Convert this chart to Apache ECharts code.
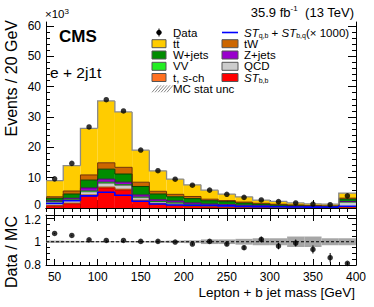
<!DOCTYPE html>
<html><head><meta charset="utf-8">
<script src="https://cdn.jsdelivr.net/npm/echarts@6/dist/echarts.min.js"></script>
<style>html,body{margin:0;padding:0;background:#fff}#c{width:374px;height:307px}</style>
</head><body><div id="c"></div>
<script>
// ---------- data (thousands of events per 20 GeV bin) ----------
const binEdges = [40,60,80,100,120,140,160,180,200,220,240,260,280,300,320,340,360,380,400];
const dataVals = [9.6,14.7,26.7,35.7,32.0,19.1,12.3,9.5,7.5,5.9,4.5,3.5,2.65,2.1,1.65,1.3,1.1,4.0];
const stbbVals = [0.6,1.4,4.0,6.6,5.9,2.3,1.2,0.8,0.5,0.35,0.3,0.25,0.2,0.15,0.12,0.1,0.08,0.3];
const tschVals = [0.2,0.2,0.3,0.3,0.3,0.3,0.2,0.15,0.1,0.1,0.08,0.06,0.05,0.04,0.03,0.03,0.02,0.05];
const qcdVals  = [1.2,0.9,1.0,1.2,1.2,0.8,0.6,0.6,0.5,0.4,0.35,0.3,0.25,0.2,0.18,0.15,0.12,1.6];
const vvVals   = [0.1,0.2,0.3,0.4,0.3,0.2,0.15,0.15,0.1,0.1,0.08,0.06,0.05,0.04,0.03,0.03,0.02,0.05];
const zjetsVals= [0.3,0.5,1.0,1.0,0.8,0.7,0.55,0.6,0.45,0.35,0.29,0.23,0.2,0.17,0.14,0.12,0.1,0.15];
const wjetsVals= [0.8,1.4,2.6,3.3,2.7,2.8,1.9,1.4,1.45,1.1,1.0,0.75,0.55,0.45,0.35,0.3,0.25,0.8];
const twVals   = [0.5,1.0,1.7,2.1,2.2,1.4,0.9,0.8,0.7,0.5,0.35,0.3,0.25,0.2,0.15,0.12,0.1,0.3];
const ttbarVals= [5.3,8.35,15.35,20.4,18.25,10.55,6.76,5.03,3.85,2.98,2.15,1.74,1.05,0.93,0.67,0.54,0.58,1.65];
const stLineVals=[1.5,2.4,4.0,5.2,4.2,2.2,1.3,1.0,0.9,0.8,0.7,0.5,0.45,0.4,0.35,0.3,0.3,0.6];
const ratioVals = [1.071,1.054,1.017,1.011,1.011,1.003,1.003,0.997,0.98,1.003,0.98,0.949,1.02,0.963,0.989,0.934,0.863,0.814];
const ratioErrs = [0.005,0.005,0.004,0.004,0.004,0.005,0.006,0.008,0.01,0.012,0.014,0.018,0.025,0.028,0.03,0.035,0.04,0.012];
const mcUncVals = [0.01,0.008,0.006,0.005,0.005,0.006,0.008,0.01,0.012,0.02,0.02,0.025,0.03,0.03,0.045,0.045,0.03,0.03];
const xMajorTicks = [50,100,150,200,250,300,350,400];
const yMainTicks = [0,10,20,30,40,50,60];
const yRatioTicks = [0.8,1,1.2];

const FONT = 'Liberation Sans, Arial, Helvetica, sans-serif';
const nb = dataVals.length;
const centers = [];
for (let i = 0; i < nb; i++) centers.push((binEdges[i] + binEdges[i+1]) / 2);

const layers = [
  {vals: stbbVals, fill:'#ff0000', line:'#aa0000'},
  {vals: tschVals, fill:'#ff7020', line:'#b04000'},
  {vals: qcdVals,  fill:'#cccccc', line:'#808080'},
  {vals: vvVals,   fill:'#22ee22', line:'#108010'},
  {vals: zjetsVals,fill:'#9900cc', line:'#550077'},
  {vals: wjetsVals,fill:'#008c00', line:'#004400'},
  {vals: twVals,   fill:'#cc6600', line:'#703000'},
  {vals: ttbarVals,fill:'#ffcc00', line:'#8a8a8a'}
];
let cum = new Array(nb).fill(0);
const series = [];
const outlineSeries = [];
layers.forEach((L, li) => {
  const items = [];
  const hiArr = [];
  for (let i = 0; i < nb; i++) {
    const lo = cum[i], hi = cum[i] + L.vals[i];
    hiArr.push(hi);
    items.push([binEdges[i], binEdges[i+1], lo, hi, i > 0 ? hiArr[i-1] : lo]);
  }
  cum = hiArr;
  series.push({
    type:'custom', xAxisIndex:0, yAxisIndex:0, z:2, silent:true, data:items, clip:true,
    renderItem:(p, api) => {
      const a = api.coord([api.value(0), api.value(2)]);
      const b = api.coord([api.value(1), api.value(3)]);
      return {type:'rect', shape:{x:a[0], y:b[1], width:b[0]-a[0], height:a[1]-b[1]}, style:{fill:L.fill}};
    }
  });
  outlineSeries.push({
    type:'custom', xAxisIndex:0, yAxisIndex:0, z:3, silent:true, data:items, clip:true,
    renderItem:(p, api) => {
      const pp = api.coord([api.value(0), api.value(4)]);
      const a = api.coord([api.value(0), api.value(3)]);
      const b = api.coord([api.value(1), api.value(3)]);
      return {type:'polyline', shape:{points:[pp, a, b]}, style:{stroke:L.line, fill:null, lineWidth: li === layers.length-1 ? 1.3 : 1}};
    }
  });
});

const stItems = [];
for (let i = 0; i < nb; i++) stItems.push([binEdges[i], binEdges[i+1], stLineVals[i], i > 0 ? stLineVals[i-1] : stLineVals[i]]);
const stSeries = {
  type:'custom', xAxisIndex:0, yAxisIndex:0, z:4, silent:true, data:stItems,
  renderItem:(p, api) => {
    const pp = api.coord([api.value(0), api.value(3)]);
    const a = api.coord([api.value(0), api.value(2)]);
    const b = api.coord([api.value(1), api.value(2)]);
    return {type:'polyline', shape:{points:[pp, a, b]}, style:{stroke:'#0000ff', fill:null, lineWidth:1.6}};
  }
};

const dataSeries = {
  type:'scatter', xAxisIndex:0, yAxisIndex:0, z:6, symbol:'circle', symbolSize:5.5,
  itemStyle:{color:'#000'}, data: centers.map((c,i)=>[c, dataVals[i]])
};

// ratio panel
const bandItems = [];
for (let i = 0; i < nb; i++) bandItems.push([binEdges[i], binEdges[i+1], 1 - mcUncVals[i], 1 + mcUncVals[i]]);
const bandSeries = {
  type:'custom', xAxisIndex:4, yAxisIndex:4, z:2, silent:true, data:bandItems, clip:true,
  renderItem:(p, api) => {
    const a = api.coord([api.value(0), api.value(2)]);
    const b = api.coord([api.value(1), api.value(3)]);
    return {type:'rect', shape:{x:a[0], y:b[1], width:b[0]-a[0], height:a[1]-b[1]}, style:{fill:'#a6a6a6'}};
  }
};
const oneLine = {
  type:'line', xAxisIndex:4, yAxisIndex:4, z:3, symbol:'none', silent:true,
  lineStyle:{color:'#000', width:1, type:[3,2]}, data:[[40,1],[400,1]]
};
const ratioErrSeries = {
  type:'custom', xAxisIndex:4, yAxisIndex:4, z:4, silent:true, clip:true,
  data: centers.map((c,i)=>[c, ratioVals[i]-ratioErrs[i], ratioVals[i]+ratioErrs[i]]),
  renderItem:(p, api) => {
    const a = api.coord([api.value(0), api.value(1)]);
    const b = api.coord([api.value(0), api.value(2)]);
    return {type:'line', shape:{x1:a[0], y1:a[1], x2:b[0], y2:b[1]}, style:{stroke:'#000', lineWidth:1}};
  }
};
const ratioPts = {
  type:'scatter', xAxisIndex:4, yAxisIndex:4, z:5, symbol:'circle', symbolSize:5.5,
  itemStyle:{color:'#000'}, data: centers.map((c,i)=>[c, ratioVals[i]])
};

// ---------- axes ----------
const minorX = []; for (let v = 40; v <= 400; v += 10) minorX.push(v);
const minorYMain = []; for (let v = 0; v <= 60; v += 2) minorYMain.push(v);
const minorYRat = []; for (let k = 0; k <= 8; k++) minorYRat.push(+(0.8 + 0.05*k).toFixed(2));

const lbl = {color:'#000', fontFamily:FONT, fontSize:12};
function xAx(grid, pos, ticks, len, labels, line) {
  return {type:'value', gridIndex:grid, position:pos, min:40, max:400,
    splitLine:{show:false},
    axisLine:{show:line, lineStyle:{color:'#000', width:1}},
    axisTick:{show:true, inside:true, length:len, customValues:ticks, lineStyle:{color:'#000', width:1}},
    axisLabel: labels ? Object.assign({show:true, customValues:ticks, margin:6}, lbl) : {show:false}};
}
function yAx(grid, pos, min, max, ticks, len, labels, line, fmt, rich) {
  return {type:'value', gridIndex:grid, position:pos, min:min, max:max,
    splitLine:{show:false},
    axisLine:{show:line, lineStyle:{color:'#000', width:1}},
    axisTick:{show:true, inside:true, length:len, customValues:ticks, lineStyle:{color:'#000', width:1}},
    axisLabel: labels ? Object.assign({show:true, customValues:ticks, margin:5, formatter:fmt, rich:rich}, lbl) : {show:false}};
}
const GM = {left:46, top:22, width:310, height:186};
const GR = {left:46, top:215, width:310, height:50};
const YMAX = 61.3;
const RMAX = 1.23;

const xAxis = [
  xAx(0,'bottom',xMajorTicks,8,false,true), xAx(0,'top',xMajorTicks,8,false,true),
  xAx(1,'bottom',minorX,4,false,false), xAx(1,'top',minorX,4,false,false),
  xAx(2,'bottom',xMajorTicks,6,true,true), xAx(2,'top',xMajorTicks,6,false,true),
  xAx(3,'bottom',minorX,3,false,false), xAx(3,'top',minorX,3,false,false)
];
const mainFmt = v => v === 0 ? '{z|0}' : String(v);
const mainRich = {z:{fontSize:12, fontFamily:FONT, color:'#000', padding:[0,0,7,0]}};
const ratFmt = v => Math.abs(v - 1.2) < 1e-6 ? '{t|1.2}' : String(+v.toFixed(1));
const ratRich = {t:{fontSize:12, fontFamily:FONT, color:'#000', padding:[3,0,0,0]}};
const yAxis = [
  yAx(0,'left',0,YMAX,yMainTicks,8,true,true,mainFmt,mainRich), yAx(0,'right',0,YMAX,yMainTicks,8,false,true),
  yAx(1,'left',0,YMAX,minorYMain,4,false,false), yAx(1,'right',0,YMAX,minorYMain,4,false,false),
  yAx(2,'left',0.8,RMAX,yRatioTicks,8,true,true,ratFmt,ratRich), yAx(2,'right',0.8,RMAX,yRatioTicks,8,false,true),
  yAx(3,'left',0.8,RMAX,minorYRat,4,false,false), yAx(3,'right',0.8,RMAX,minorYRat,4,false,false)
];

// ---------- text / legend graphics ----------
const g = [];
function txt(x, y, text, opt) {
  g.push({type:'text', x:x, y:y, silent:true, rotation:opt.rot||0,
    style:Object.assign({text:text, fill:'#000', fontFamily:FONT, fontSize:12, align:'left', verticalAlign:'middle'}, opt.style)});
}
txt(45, 14, '{a|×10}{s|3}', {style:{fontSize:11, rich:{a:{fontSize:11.5, fontFamily:FONT, lineHeight:13}, s:{fontSize:8, fontFamily:FONT, verticalAlign:'top', lineHeight:8}}}});
txt(354, 12, '{a|35.9 fb}{s|-1}{a|  (13 TeV)}', {style:{align:'right', rich:{a:{fontSize:13, fontFamily:FONT, lineHeight:15}, s:{fontSize:8, fontFamily:FONT, verticalAlign:'top', lineHeight:8}}}});
txt(59, 36, 'CMS', {style:{fontSize:17, fontWeight:'bold'}});
txt(50, 72, 'e + 2j1t', {style:{fontSize:15.5}});
txt(11, 20, 'Events / 20 GeV', {rot:Math.PI/2, style:{fontSize:16, align:'right'}});
txt(11, 216, 'Data / MC', {rot:Math.PI/2, style:{fontSize:16, align:'right'}});
txt(355, 292, 'Lepton + b jet mass [GeV]', {style:{fontSize:13.5, align:'right'}});

const rowY = [32.5, 43.7, 55, 66.3, 77.5, 88.8];
const LF = 11.5;
function box(x, y, w, fill, stroke) {
  g.push({type:'rect', silent:true, shape:{x:x, y:y-4, width:w, height:8}, style:{fill:fill, stroke:stroke, lineWidth:1}});
}
// column 1
g.push({type:'circle', silent:true, shape:{cx:159, cy:rowY[0], r:2.7}, style:{fill:'#000'}});
g.push({type:'line', silent:true, shape:{x1:159, y1:rowY[0]-4, x2:159, y2:rowY[0]+4}, style:{stroke:'#000', lineWidth:1}});
txt(173, rowY[0], 'Data', {style:{fontSize:LF}});
box(152, rowY[1], 14, '#ffcc00', '#555');
txt(173, rowY[1], 'tt', {style:{fontSize:LF}});
g.push({type:'line', silent:true, shape:{x1:176.3, y1:rowY[1]-5.5, x2:179.8, y2:rowY[1]-5.5}, style:{stroke:'#000', lineWidth:0.9}});
box(152, rowY[2], 14, '#008c00', '#555');
txt(173, rowY[2], 'W+jets', {style:{fontSize:LF}});
box(152, rowY[3], 14, '#22ee22', '#555');
txt(173, rowY[3], 'VV', {style:{fontSize:LF}});
box(152, rowY[4], 14, '#ff7020', '#555');
txt(173, rowY[4], '{a|t, }{i|s}{a|-ch}', {style:{fontSize:LF, rich:{a:{fontSize:LF, fontFamily:FONT}, i:{fontSize:LF, fontFamily:FONT, fontStyle:'italic'}}}});
// hatched MC stat unc icon
for (let k = 0; k < 6; k++) {
  const x0 = 152 + k*3;
  g.push({type:'line', silent:true, shape:{x1:x0, y1:rowY[5]+3.5, x2:x0+6, y2:rowY[5]-3.5}, style:{stroke:'#8a8a8a', lineWidth:1}});
}
txt(173, rowY[5], 'MC stat unc', {style:{fontSize:LF}});
// column 2
g.push({type:'line', silent:true, shape:{x1:222, y1:rowY[0], x2:238, y2:rowY[0]}, style:{stroke:'#0000ff', lineWidth:1.6}});
const stRich = {a:{fontSize:LF, fontFamily:FONT, lineHeight:13}, i:{fontSize:LF, fontFamily:FONT, fontStyle:'italic', lineHeight:13}, s:{fontSize:7, fontFamily:FONT, verticalAlign:'bottom', lineHeight:7}};
txt(244, rowY[0], '{i|ST}{s|q,b}{a| + }{i|ST}{s|b,q}{a|(× 1000)}', {style:{fontSize:LF, rich:stRich}});
box(222, rowY[1], 16, '#cc6600', '#555');
txt(244, rowY[1], 'tW', {style:{fontSize:LF}});
box(222, rowY[2], 16, '#9900cc', '#555');
txt(244, rowY[2], 'Z+jets', {style:{fontSize:LF}});
box(222, rowY[3], 16, '#cccccc', '#555');
txt(244, rowY[3], 'QCD', {style:{fontSize:LF}});
box(222, rowY[4], 16, '#ff0000', '#555');
txt(244, rowY[4], '{i|ST}{s|b,b}', {style:{fontSize:LF, rich:stRich}});

const chart = echarts.init(document.getElementById('c'), null, {renderer:'svg', width:374, height:307});
chart.setOption({
  animation:false,
  backgroundColor:'#fff',
  grid:[Object.assign({outerBoundsMode:'none', containLabel:false}, GM), Object.assign({outerBoundsMode:'none', containLabel:false}, GM),
        Object.assign({outerBoundsMode:'none', containLabel:false}, GR), Object.assign({outerBoundsMode:'none', containLabel:false}, GR)],
  xAxis:xAxis, yAxis:yAxis,
  series: series.concat(outlineSeries, [stSeries, dataSeries, bandSeries, oneLine, ratioErrSeries, ratioPts]),
  graphic: g
});
</script></body></html>
